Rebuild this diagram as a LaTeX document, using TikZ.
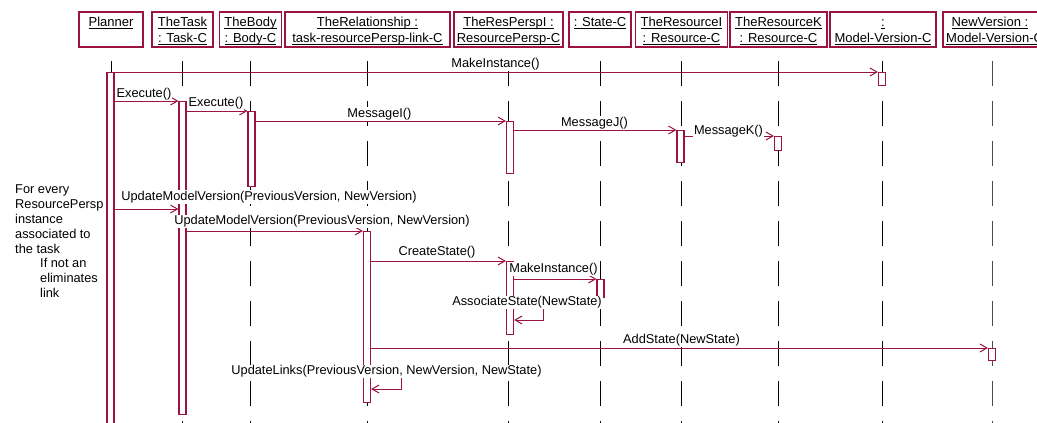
\documentclass[tikz,border=0pt]{standalone}
\usepackage{fontspec}
\setmainfont{Liberation Sans}
\usetikzlibrary{arrows.meta}
\definecolor{crim}{RGB}{155,20,65}
\newcommand\ulx[1]{\underline{\smash{#1}}}

\begin{document}
\begin{tikzpicture}[x=1pt,y=-1pt,
  font=\fontsize{12.8}{15}\selectfont,
  hdrbox/.style={draw=crim, line width=1.5pt, fill=white, minimum height=35pt, inner sep=0pt},
  hdrtxt/.style={anchor=base, inner sep=0pt, font=\fontsize{13}{15}\selectfont},
  lifeline/.style={draw=black, line width=1pt, dash pattern=on 25pt off 15pt, dash phase=27pt},
  act/.style={draw=crim, line width=1.2pt, fill=white, minimum width=7pt, inner sep=0pt, anchor=north},
  msg/.style={draw=crim, line width=1pt, -{Straight Barb[length=7pt,width=8pt]}},
  lbl/.style={fill=white, inner xsep=1pt, inner ysep=0.8pt},
  note/.style={anchor=base west, fill=white, inner xsep=3pt, inner ysep=1pt}
]
\useasboundingbox (0,0) rectangle (1037,423);
\clip (0,0) rectangle (1037,423);

% object boxes
\node[hdrbox, minimum width=64pt]  (pl) at (111,29.5) {};
\node[hdrbox, minimum width=61pt]  (tk) at (182.5,29.5) {};
\node[hdrbox, minimum width=62pt]  (bd) at (250.5,29.5) {};
\node[hdrbox, minimum width=165pt] (rl) at (367.5,29.5) {};
\node[hdrbox, minimum width=109pt] (rp) at (508.5,29.5) {};
\node[hdrbox, minimum width=62pt]  (st) at (600,29.5) {};
\node[hdrbox, minimum width=92pt]  (ri) at (681.5,29.5) {};
\node[hdrbox, minimum width=97pt]  (rk) at (778.5,29.5) {};
\node[hdrbox, minimum width=106pt] (mv) at (883,29.5) {};
\node[hdrbox, minimum width=106pt] (nv) at (996,29.5) {};

\node[hdrtxt] (pl-a) at (111,26.5) {\ulx{Planner}};
\node[hdrtxt] (tk-a) at (182.5,26.5) {\ulx{TheTask}};
\node[hdrtxt] (tk-b) at (182.5,42.5) {\ulx{: Task-C}};
\node[hdrtxt] (bd-a) at (250.5,26.5) {\ulx{TheBody}};
\node[hdrtxt] (bd-b) at (250.5,42.5) {\ulx{: Body-C}};
\node[hdrtxt] (rl-a) at (367.5,26.5) {\ulx{TheRelationship :}};
\node[hdrtxt] (rl-b) at (367.5,42.5) {\ulx{task-resourcePersp-link-C}};
\node[hdrtxt] (rp-a) at (508.5,26.5) {\ulx{TheResPerspI :}};
\node[hdrtxt] (rp-b) at (508.5,42.5) {\ulx{ResourcePersp-C}};
\node[hdrtxt] (st-a) at (600,26.5) {\ulx{: State-C}};
\node[hdrtxt] (ri-a) at (681.5,26.5) {\ulx{TheResourceI}};
\node[hdrtxt] (ri-b) at (681.5,42.5) {\ulx{: Resource-C}};
\node[hdrtxt] (rk-a) at (778.5,26.5) {\ulx{TheResourceK}};
\node[hdrtxt] (rk-b) at (778.5,42.5) {\ulx{: Resource-C}};
\node[hdrtxt] (mv-a) at (883,26.5) {\ulx{:}};
\node[hdrtxt] (mv-b) at (883,42.5) {\ulx{Model-Version-C}};
\node[hdrtxt] (nv-a) at (990,26.5) {\ulx{NewVersion :}};
\node[hdrtxt, anchor=base west] (nv-b) at (946,42.5) {\ulx{Model-Version-C}};

% lifelines
\coordinate (end) at (0,430);
\foreach \n in {pl,tk,bd,rl,rp,st,ri,rk}
  \draw[lifeline] (\n.south) -- (\n.south |- end);
\coordinate (mv-top) at (882,47.8);
\coordinate (nv-top) at (992,47.8);
\draw[lifeline] (mv-top) -- (mv-top |- end);
\draw[lifeline, draw=black!70] (nv-top) -- (nv-top |- end);

% activation bars
\node[act, minimum height=360pt] (a-pl)  at (110.5,72) {};
\node[act, minimum height=313pt] (a-tk)  at (182.5,101) {};
\node[act, minimum height=75pt]  (a-bd)  at (251.5,111) {};
\node[act, minimum height=52pt]  (a-rp1) at (510,121) {};
\node[act, minimum height=32pt]  (a-ri)  at (680.5,130) {};
\node[act, minimum height=14pt]  (a-rk)  at (778,136) {};
\node[act, minimum height=13pt]  (a-mv)  at (882,72) {};
\node[act, minimum height=171pt] (a-rl)  at (367,231) {};
\node[act, minimum height=73pt]  (a-rp2) at (510,261) {};
\node[act, minimum height=18pt]  (a-st)  at (600.5,279) {};
\node[act, minimum height=12pt]  (a-nv)  at (992,348) {};

% messages
\draw[msg] (a-pl.north east) -- (a-mv.north west);
\draw[msg] (a-pl.east |- a-tk.north) -- (a-tk.north west);
\draw[msg] (a-tk.east |- a-bd.north) -- (a-bd.north west);
\draw[msg] (a-bd.east |- a-rp1.north) -- (a-rp1.north west);
\draw[msg] (a-rp1.east |- a-ri.north) -- (a-ri.north west);
\draw[msg] (a-ri.east |- a-rk.north) -- (a-rk.north west);
\coordinate (umv) at (0,209);
\draw[msg] (a-pl.east |- umv) -- (a-tk.west |- umv);
\draw[msg] (a-tk.east |- a-rl.north) -- (a-rl.north west);
\draw[msg] (a-rl.east |- a-rp2.north) -- (a-rp2.north west);
\draw[msg] (a-rp2.east |- a-st.north) -- (a-st.north west);
\coordinate (as1) at (543,303);
\coordinate (as2) at (543,320);
\draw[msg] (a-rp2.east |- as1) -- (as1) -- (as2) -- (a-rp2.east |- as2);
\draw[msg] (a-rl.east |- a-nv.north) -- (a-nv.north west);
\coordinate (ul1) at (401,373);
\coordinate (ul2) at (401,389);
\draw[msg] (a-rl.east |- ul1) -- (ul1) -- (ul2) -- (a-rl.east |- ul2);

% message labels
\node[lbl] (m1)  at (495.5,64.5) {MakeInstance()};
\node[lbl] (m2)  at (144,94) {Execute()};
\node[lbl] (m3)  at (216,103.5) {Execute()};
\node[lbl] (m4)  at (379.5,114) {MessageI()};
\node[lbl] (m5)  at (594.5,123) {MessageJ()};
\node[lbl] (m6)  at (728.5,131) {MessageK()};
\node[lbl] (m7)  at (269,197) {UpdateModelVersion(PreviousVersion, NewVersion)};
\node[lbl] (m8)  at (322,221.5) {UpdateModelVersion(PreviousVersion, NewVersion)};
\node[lbl] (m9)  at (437,252.5) {CreateState()};
\node[lbl] (m10) at (553.5,269) {MakeInstance()};
\node[lbl] (m11) at (527,302.5) {AssociateState(NewState)};
\node[lbl] (m12) at (681.5,340) {AddState(NewState)};
\node[lbl] (m13) at (386.5,371.5) {UpdateLinks(PreviousVersion, NewVersion, NewState)};

% loop / condition notes
\foreach \t [count=\i] in {For every, ResourcePersp, instance, associated to, the task}
  \node[note] (n\i) at (12,178.6+14.9*\i) {\t};
\foreach \t [count=\i] in {If not an, eliminates, link}
  \node[note] (k\i) at (37,252+15*\i) {\t};
\end{tikzpicture}
\end{document}
